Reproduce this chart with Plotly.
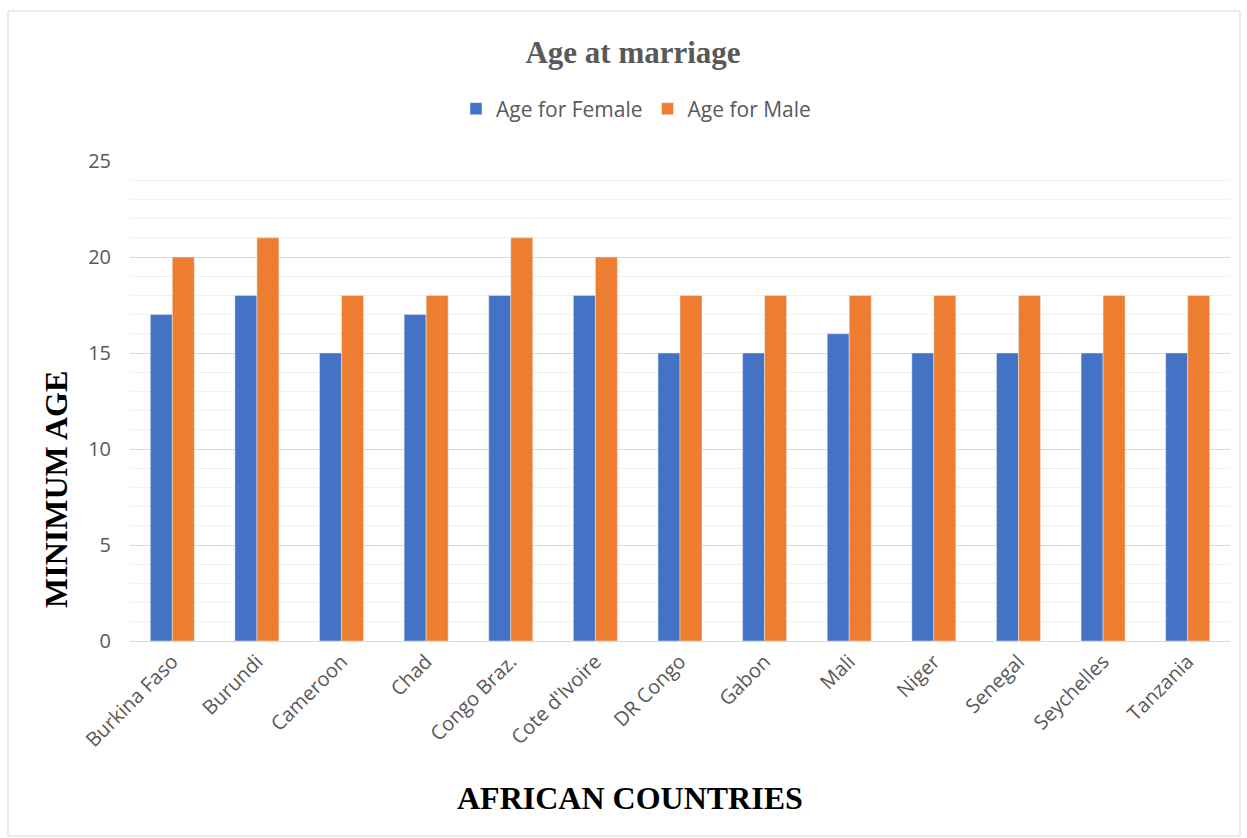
import plotly.graph_objects as go

countries = ["Burkina Faso", "Burundi", "Cameroon", "Chad", "Congo Braz.", "Cote d'Ivoire",
             "DR Congo", "Gabon", "Mali", "Niger", "Senegal", "Seychelles", "Tanzania"]
age_female = [17, 18, 15, 17, 18, 18, 15, 15, 16, 15, 15, 15, 15]
age_male = [20, 21, 18, 18, 21, 20, 18, 18, 18, 18, 18, 18, 18]

W, H = 1247, 838
L, R, T, B = 130, 1230, 161, 641

def px(x):
    return (x - L) / (R - L)

def py(y):
    return (B - y) / (B - T)

fig = go.Figure()
fig.add_trace(go.Bar(x=countries, y=age_female, name="Age for Female", marker_color="#4472C4"))
fig.add_trace(go.Bar(x=countries, y=age_male, name="Age for Male", marker_color="#ED7D31"))

fig.update_layout(
    width=W, height=H,
    margin=dict(l=L, r=W - R, t=T, b=H - B),
    paper_bgcolor="white", plot_bgcolor="white",
    barmode="group", bargap=0.48, bargroupgap=0,
    title=dict(text="<b>Age at marriage</b>", x=px(633), xref="paper", xanchor="center",
               y=1 - 52 / H, yref="container", yanchor="middle",
               font=dict(family="Liberation Serif", size=31, color="#595959")),
    legend=dict(orientation="h", x=px(636), xanchor="center", y=py(109), yanchor="middle",
                font=dict(family="Open Sans", size=21, color="#595959"),
                traceorder="normal"),
    showlegend=True,
    font=dict(family="Open Sans", color="#595959"),
)
fig.update_yaxes(range=[0, 25], dtick=5, tick0=0, showgrid=True, gridcolor="#d9d9d9", gridwidth=1,
                 minor=dict(dtick=1, showgrid=True, gridcolor="#f0f0f0", gridwidth=1),
                 zeroline=False, showline=False, ticks="",
                 tickfont=dict(family="Open Sans", size=20, color="#595959"), ticklabelstandoff=18)
fig.update_xaxes(showline=True, linecolor="#d9d9d9", linewidth=1, ticks="", tickangle=-45,
                 tickfont=dict(family="Open Sans", size=20, color="#595959"))

fig.add_annotation(text="<b>MINIMUM AGE</b>", x=px(56), y=py(490), xref="paper", yref="paper",
                   xanchor="center", yanchor="middle",
                   textangle=-90, showarrow=False,
                   font=dict(family="Liberation Serif", size=32, color="black"))
fig.add_annotation(text="<b>AFRICAN COUNTRIES</b>", x=px(630), y=py(798), xref="paper", yref="paper",
                   xanchor="center", yanchor="middle",
                   showarrow=False, font=dict(family="Liberation Serif", size=32, color="black"))

fig.add_shape(type="rect", xref="paper", yref="paper", x0=px(8), x1=px(1240), y0=py(836), y1=py(11),
              line=dict(color="#d9d9d9", width=1), fillcolor="rgba(0,0,0,0)", layer="below")

fig.write_html("out.html")
